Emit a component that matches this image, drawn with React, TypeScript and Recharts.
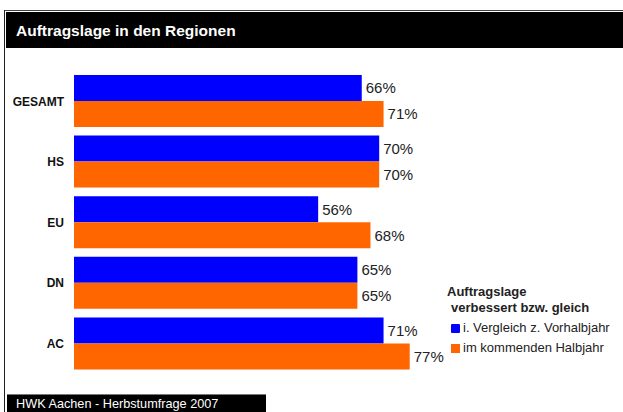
import { BarChart, Bar, XAxis, YAxis, LabelList } from "recharts";

const regions = ["GESAMT", "HS", "EU", "DN", "AC"];
const vorhalbjahr = [66, 70, 56, 65, 71];
const kommendes = [71, 70, 68, 65, 77];

const seriesNames = ["i. Vergleich z. Vorhalbjahr", "im kommenden Halbjahr"];
const COLORS = ["#0000FF", "#FF6600"];

const data = regions.map((region, i) => ({
  region,
  vorhalbjahr: vorhalbjahr[i],
  kommendes: kommendes[i],
}));

const FONT = "'Liberation Sans', Arial, Helvetica, sans-serif";

// legend sits outside the chart so it does not push the plot area around
const ChartLegend = () => (
  <div
    style={{
      position: "absolute",
      left: 447,
      top: 284,
      width: 176,
      fontFamily: FONT,
      color: "#222",
      whiteSpace: "nowrap",
    }}
  >
    <div style={{ fontWeight: "bold", fontSize: 13, lineHeight: "16px" }}>Auftragslage</div>
    <div style={{ fontWeight: "bold", fontSize: 13, lineHeight: "16px", paddingLeft: 4, marginBottom: 2 }}>
      verbessert bzw. gleich
    </div>
    {seriesNames.map((name, index) => (
      <div
        key={`item-${index}`}
        style={{ display: "flex", alignItems: "center", fontSize: 13, lineHeight: "20px", paddingLeft: 4 }}
      >
        <span
          style={{
            display: "inline-block",
            width: 9,
            height: 9,
            backgroundColor: COLORS[index],
            marginRight: 3,
            borderRadius: index === 0 ? 1 : 0,
          }}
        />
        {name}
      </div>
    ))}
  </div>
);

const App = () => {
  return (
    <div
      style={{
        position: "absolute",
        left: 0,
        top: 0,
        width: 623,
        height: 412,
        background: "#fff",
        overflow: "hidden",
        fontFamily: FONT,
      }}
    >
      {/* frame */}
      <div style={{ position: "absolute", left: 4, top: 10, width: 619, height: 1, background: "#444" }} />
      <div style={{ position: "absolute", left: 4, top: 10, width: 1, height: 402, background: "#222" }} />
      {/* header */}
      <div
        style={{
          position: "absolute",
          left: 6,
          top: 12,
          width: 617,
          height: 36,
          background: "#000",
          color: "#fff",
          fontWeight: "bold",
          fontSize: 15.5,
          lineHeight: "38px",
          paddingLeft: 10,
          boxSizing: "border-box",
        }}
      >
        Auftragslage in den Regionen
      </div>
      {/* footer */}
      <div
        style={{
          position: "absolute",
          left: 7,
          top: 394,
          width: 259,
          height: 18,
          background: "#000",
          borderTop: "1px solid #777",
          boxSizing: "border-box",
          color: "#fff",
          fontSize: 12.7,
          lineHeight: "19px",
          paddingLeft: 9,
          whiteSpace: "nowrap",
        }}
      >
        HWK Aachen - Herbstumfrage 2007
      </div>

      <div style={{ position: "absolute", left: 0, top: 0 }}>
        <BarChart
          width={623}
          height={412}
          data={data}
          layout="vertical"
          margin={{ top: 71, right: 113, bottom: 38, left: 0 }}
          barCategoryGap={4}
          barGap={0}
        >
          <XAxis type="number" domain={[0, 100]} hide />
          <YAxis
            type="category"
            dataKey="region"
            width={74}
            axisLine={false}
            tickLine={false}
            tickSize={0}
            tickMargin={10}
            tick={{ fontSize: 12, fontWeight: "bold", fill: "#111", fontFamily: FONT }}
          />
          <Bar dataKey="vorhalbjahr" name={seriesNames[0]} fill={COLORS[0]} isAnimationActive={false}>
            <LabelList
              dataKey="vorhalbjahr"
              position="right"
              offset={4}
              formatter={(v: any) => `${v}%`}
              style={{ fontSize: 15, fill: "#222", fontFamily: FONT }}
            />
          </Bar>
          <Bar dataKey="kommendes" name={seriesNames[1]} fill={COLORS[1]} isAnimationActive={false}>
            <LabelList
              dataKey="kommendes"
              position="right"
              offset={4}
              formatter={(v: any) => `${v}%`}
              style={{ fontSize: 15, fill: "#222", fontFamily: FONT }}
            />
          </Bar>
        </BarChart>
      </div>
      <ChartLegend />
    </div>
  );
};

export default App;
